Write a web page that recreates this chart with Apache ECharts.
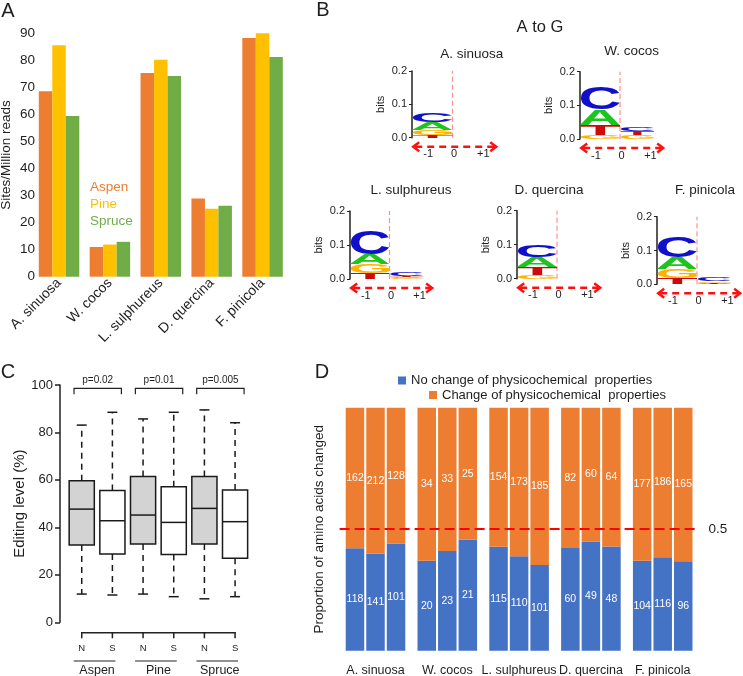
<!DOCTYPE html>
<html><head><meta charset="utf-8">
<script src="https://cdn.jsdelivr.net/npm/echarts@6/dist/echarts.min.js"></script>
<style>html,body{margin:0;padding:0;background:#fff}#c{width:743px;height:676px}</style>
</head><body><div id="c"></div>
<script>
// ---------- Panel A data ----------
const speciesA = ['A. sinuosa', 'W. cocos', 'L. sulphureus', 'D. quercina', 'F. pinicola'];
const aspenSites = [68.6, 11.0, 75.3, 28.9, 88.3];
const pineSites = [85.6, 11.9, 80.2, 25.1, 90.4];
const spruceSites = [59.4, 12.9, 74.2, 26.2, 81.2];

// ---------- Panel B data (bits) ----------
const logoTitles = ['A. sinuosa', 'W. cocos', 'L. sulphureus', 'D. quercina', 'F. pinicola'];
const logoPosLabels = ['-1', '0', '+1'];
const bitsA_m1 = [0.024, 0.047, 0.030, 0.031, 0.036];
const bitsC_m1 = [0.026, 0.064, 0.069, 0.034, 0.062];
const bitsG_m1 = [0.015, 0.012, 0.028, 0.010, 0.026];
const bitsT_m1 = [0.008, 0.031, 0.017, 0.023, 0.020];
const bitsA_p1 = [0, 0, 0.003, 0, 0.003];
const bitsC_p1 = [0, 0.012, 0.011, 0, 0.010];
const bitsG_p1 = [0, 0.011, 0.002, 0, 0.005];
const bitsT_p1 = [0, 0.0115, 0.004, 0, 0.002];

// ---------- Panel C data ----------
const boxCats = ['N', 'S', 'N', 'S', 'N', 'S'];
const boxGroups = ['Aspen', 'Pine', 'Spruce'];
const pLabels = ['p=0.02', 'p=0.01', 'p=0.005'];
const boxMin = [11.9, 11.5, 11.9, 10.8, 9.9, 10.8];
const boxQ1 = [32.6, 28.8, 33.0, 28.6, 33.0, 27.0];
const boxMed = [47.7, 42.8, 45.2, 42.1, 48.0, 42.4];
const boxQ3 = [59.7, 55.5, 61.4, 57.1, 61.4, 55.8];
const boxMax = [83.1, 88.5, 85.7, 88.5, 89.5, 84.1];

// ---------- Panel D data ----------
const speciesD = ['A. sinuosa', 'W. cocos', 'L. sulphureus', 'D. quercina', 'F. pinicola'];
const noChange1 = [118, 20, 115, 60, 104];
const change1 = [162, 34, 154, 82, 177];
const noChange2 = [141, 23, 110, 49, 116];
const change2 = [212, 33, 173, 60, 186];
const noChange3 = [101, 21, 101, 48, 96];
const change3 = [128, 25, 185, 64, 165];
const NAME_NO = 'No change of physicochemical  properties';
const NAME_CH = 'Change of physicochemical  properties';

// ---------- helpers ----------
const FONT = '"Liberation Sans", Arial, Helvetica, sans-serif';
const TXT = '#1e1e1e';
const letters = ['A', 'C', 'G', 'T'];
const letterColors = { A: '#1DC41D', C: '#1010CC', G: '#FFB300', T: '#CC0A0A' };
const LOGO_FONT = 'bold 40px "Liberation Sans"';
const mctx = document.createElement('canvas').getContext('2d');
mctx.font = LOGO_FONT; mctx.textAlign = 'center'; mctx.textBaseline = 'middle';
const metrics = {};
letters.forEach(l => {
  const m = mctx.measureText(l);
  metrics[l] = { L: m.actualBoundingBoxLeft, R: m.actualBoundingBoxRight, A: m.actualBoundingBoxAscent, D: m.actualBoundingBoxDescent };
});
const m1 = { A: bitsA_m1, C: bitsC_m1, G: bitsG_m1, T: bitsT_m1 };
const p1 = { A: bitsA_p1, C: bitsC_p1, G: bitsG_p1, T: bitsT_p1 };
function logoData(s) {
  const rows = [];
  [[m1, -1, 0], [p1, 0, 0.85]].forEach(([src, x0, x1]) => {
    const items = letters.map(l => ({ l, h: src[l][s] })).filter(d => d.h > 0).sort((a, b) => a.h - b.h);
    let base = 0;
    items.forEach(d => { rows.push([x0, x1, base, base + d.h, letters.indexOf(d.l)]); base += d.h; });
  });
  return rows;
}
function renderLetter(params, api) {
  const x0 = api.value(0), x1 = api.value(1), b = api.value(2), t = api.value(3), li = api.value(4);
  const q0 = api.coord([x0, b]), q1 = api.coord([x1, t]);
  const w = q1[0] - q0[0], h = q0[1] - q1[1];
  if (h < 0.4) return null;
  const L = letters[li], m = metrics[L];
  const sx = w / (m.L + m.R), sy = h / (m.A + m.D);
  return {
    type: 'text', x: q0[0] + m.L * sx, y: q1[1] + m.A * sy, scaleX: sx, scaleY: sy, silent: true,
    style: { text: L, font: LOGO_FONT, fill: letterColors[L], textAlign: 'center', textVerticalAlign: 'middle' }
  };
}
const logoLabelX = [-0.6, 0.04, 0.76];
function renderDecor(params, api) {
  const z0 = api.coord([0, 0]), z2 = api.coord([0, 0.2]);
  const y = z0[1] + 9;
  const xl = api.coord([-0.97, 0])[0], xr = api.coord([1.08, 0])[0];
  const red = { stroke: '#FF1010', lineWidth: 2.5, fill: null };
  const ch = [
    { type: 'line', shape: { x1: z0[0], y1: z0[1], x2: z2[0], y2: z2[1] }, style: { stroke: '#FF9090', lineWidth: 1.2, lineDash: [5, 3] } },
    { type: 'line', shape: { x1: xl + 2, y1: y, x2: xr - 2, y2: y }, style: Object.assign({ lineDash: [7, 5] }, red) },
    { type: 'polyline', shape: { points: [[xl + 6, y - 4.5], [xl, y], [xl + 6, y + 4.5]] }, style: red },
    { type: 'polyline', shape: { points: [[xr - 6, y - 4.5], [xr, y], [xr - 6, y + 4.5]] }, style: red }
  ];
  logoPosLabels.forEach((lab, j) => {
    ch.push({ type: 'text', x: api.coord([logoLabelX[j], 0])[0], y: y + 7.5,
      style: { text: lab, fill: TXT, font: '11px ' + FONT, textAlign: 'center', textVerticalAlign: 'middle' } });
  });
  return { type: 'group', children: ch };
}

function renderBox(params, api) {
  const i = api.value(0);
  const pMin = api.coord([i, api.value(1)]), pQ1 = api.coord([i, api.value(2)]),
        pMed = api.coord([i, api.value(3)]), pQ3 = api.coord([i, api.value(4)]), pMax = api.coord([i, api.value(5)]);
  const cx = pMin[0];
  const half = api.size([1, 0])[0] * 0.41;
  const cap = 5;
  const ls = { stroke: '#1a1a1a', lineWidth: 1.5 };
  const dash = { stroke: '#1a1a1a', lineWidth: 1.5, lineDash: [6, 5] };
  return { type: 'group', children: [
    { type: 'line', shape: { x1: cx, y1: pQ3[1], x2: cx, y2: pMax[1] }, style: dash },
    { type: 'line', shape: { x1: cx, y1: pQ1[1], x2: cx, y2: pMin[1] }, style: dash },
    { type: 'line', shape: { x1: cx - cap, y1: pMax[1], x2: cx + cap, y2: pMax[1] }, style: ls },
    { type: 'line', shape: { x1: cx - cap, y1: pMin[1], x2: cx + cap, y2: pMin[1] }, style: ls },
    { type: 'rect', shape: { x: cx - half, y: pQ3[1], width: 2 * half, height: pQ1[1] - pQ3[1] },
      style: { fill: i % 2 === 0 ? '#D3D3D3' : '#FFFFFF', stroke: '#1a1a1a', lineWidth: 1.5 } },
    { type: 'line', shape: { x1: cx - half, y1: pMed[1], x2: cx + half, y2: pMed[1] }, style: ls }
  ] };
}
function renderBracket(params, api) {
  const k = params.dataIndex;
  const pN = api.coord([api.value(0), 100]), pS = api.coord([api.value(1), 100]);
  const y = pN[1] + 3.3, x1 = pN[0] - 7.7, x2 = pS[0] + 9;
  return { type: 'group', children: [
    { type: 'polyline', shape: { points: [[x1, y + 6], [x1, y], [x2, y], [x2, y + 6]] }, style: { stroke: '#222', lineWidth: 1.2, fill: null } },
    { type: 'text', x: (x1 + x2) / 2, y: pN[1] - 5, style: { text: pLabels[k], fill: TXT, font: '10px ' + FONT, textAlign: 'center', textVerticalAlign: 'middle' } }
  ] };
}
function renderBottom(params, api) {
  const i = api.value(0);
  const p = api.coord([i, 0]);
  const x = p[0], base = p[1];
  const band = api.size([1, 0])[0];
  const st = { stroke: '#222', lineWidth: 1.5 };
  const ch = [
    { type: 'line', shape: { x1: x, y1: base + 10.4, x2: x, y2: base + 16 }, style: st },
    { type: 'text', x: x, y: base + 26, style: { text: boxCats[i], fill: TXT, font: '9.5px ' + FONT, textAlign: 'center', textVerticalAlign: 'middle' } }
  ];
  if (i < boxCats.length - 1) ch.push({ type: 'line', shape: { x1: x - 0.75, y1: base + 10.4, x2: x + band + 0.75, y2: base + 10.4 }, style: st });
  if (i % 2 === 0) {
    ch.push({ type: 'line', shape: { x1: x - 8, y1: base + 38.7, x2: x + band + 3, y2: base + 38.7 }, style: { stroke: '#222', lineWidth: 1.2 } });
    ch.push({ type: 'text', x: x + band / 2, y: base + 48.5, style: { text: boxGroups[i / 2], fill: TXT, font: '12.5px ' + FONT, textAlign: 'center', textVerticalAlign: 'middle' } });
  }
  return { type: 'group', children: ch };
}

// ---------- layout ----------
const logoGrids = [
  { left: 412, top: 71, width: 81, height: 66.7 },
  { left: 580, top: 71.7, width: 80, height: 67.3 },
  { left: 350, top: 211, width: 79, height: 68 },
  { left: 517, top: 210.7, width: 80, height: 68 },
  { left: 657, top: 216.7, width: 80, height: 67.6 }
];
const logoTitlePos = [[471.7, 54], [631.7, 51.7], [411, 190.7], [549, 190.7], [705, 190.7]];
const gridBase = { containLabel: false, outerBoundsMode: 'none' };
const grids = [Object.assign({ left: 33.6, top: 33.3, width: 254.4, height: 243.4 }, gridBase)]
  .concat(logoGrids.map(g => Object.assign({}, g, gridBase)))
  .concat([Object.assign({ left: 66.4, top: 385, width: 184, height: 237.3 }, gridBase),
           Object.assign({ left: 339.6, top: 407.7, width: 359, height: 243 }, gridBase)]);

const xAxes = [{ gridIndex: 0, type: 'category', data: speciesA, axisLine: { show: false }, axisTick: { show: false },
  axisLabel: { rotate: 45, fontSize: 14, color: TXT, margin: 4, fontFamily: FONT, interval: 0 } }];
const yAxes = [{ gridIndex: 0, type: 'value', min: 0, max: 90, interval: 10, axisLine: { show: false }, axisTick: { show: false },
  splitLine: { show: false }, axisLabel: { fontSize: 13.5, color: TXT, margin: -1.5, fontFamily: FONT },
  name: 'Sites/Million reads', nameLocation: 'middle', nameGap: 20, nameTextStyle: { fontSize: 13.5, color: TXT, fontFamily: FONT } }];
logoGrids.forEach((g, k) => {
  xAxes.push({ gridIndex: k + 1, type: 'value', min: -1, max: 1, show: false, axisLine: { onZero: false } });
  yAxes.push({ gridIndex: k + 1, type: 'value', min: 0, max: 0.2, interval: 0.1, position: 'left',
    axisLine: { show: true, onZero: false, lineStyle: { color: '#222', width: 1.5 } }, axisTick: { show: true, length: 3, lineStyle: { color: '#222' } },
    splitLine: { show: false }, axisLabel: { formatter: v => v.toFixed(1), fontSize: 11, color: TXT, margin: 5, fontFamily: FONT },
    name: 'bits', nameLocation: 'middle', nameGap: 26, nameTextStyle: { fontSize: 11, color: TXT, fontFamily: FONT } });
});
xAxes.push({ gridIndex: 6, type: 'category', data: boxCats, show: false });
yAxes.push({ gridIndex: 6, type: 'value', min: 0, max: 100, interval: 20, offset: 6.4,
  axisLine: { show: true, lineStyle: { color: '#222', width: 1.5 } }, axisTick: { show: true, length: 5, lineStyle: { color: '#222', width: 1.5 } },
  splitLine: { show: false }, axisLabel: { fontSize: 13, color: TXT, margin: 7, fontFamily: FONT },
  name: 'Editing level (%)', nameLocation: 'middle', nameGap: 31, nameTextStyle: { fontSize: 15, color: TXT, fontFamily: FONT } });
xAxes.push({ gridIndex: 7, type: 'category', data: speciesD, axisLine: { show: false }, axisTick: { show: false },
  axisLabel: { fontSize: 12.5, color: TXT, margin: 13, fontFamily: FONT, interval: 0 } });
yAxes.push({ gridIndex: 7, type: 'value', min: 0, max: 1, axisLine: { show: false }, axisTick: { show: false },
  axisLabel: { show: false }, splitLine: { show: false },
  name: 'Proportion of amino acids changed', nameLocation: 'middle', nameGap: 13, nameTextStyle: { fontSize: 13.5, color: TXT, fontFamily: FONT } });

const series = [];
[['Aspen', aspenSites, '#ED7D31'], ['Pine', pineSites, '#FFC000'], ['Spruce', spruceSites, '#70AD47']].forEach(([n, d, c]) => {
  series.push({ type: 'bar', name: n, xAxisIndex: 0, yAxisIndex: 0, data: d, barWidth: 13.5, barGap: '0%', itemStyle: { color: c }, silent: true });
});
logoGrids.forEach((g, k) => {
  series.push({ type: 'custom', xAxisIndex: k + 1, yAxisIndex: k + 1, data: [[0]], renderItem: renderDecor, silent: true, clip: false });
  series.push({ type: 'custom', xAxisIndex: k + 1, yAxisIndex: k + 1, data: logoData(k), renderItem: renderLetter, silent: true, clip: false });
});
series.push({ type: 'custom', xAxisIndex: 6, yAxisIndex: 6, renderItem: renderBox, clip: false, silent: true,
  encode: { x: 0, y: [1, 2, 3, 4, 5] },
  data: boxCats.map((c, i) => [i, boxMin[i], boxQ1[i], boxMed[i], boxQ3[i], boxMax[i]]) });
series.push({ type: 'custom', xAxisIndex: 6, yAxisIndex: 6, renderItem: renderBracket, clip: false, silent: true,
  encode: { x: [0, 1] }, data: boxGroups.map((g, k) => [2 * k, 2 * k + 1]) });
series.push({ type: 'custom', xAxisIndex: 6, yAxisIndex: 6, renderItem: renderBottom, clip: false, silent: true,
  encode: { x: 0 }, data: boxCats.map((c, i) => [i]) });
const pairs = [[noChange1, change1], [noChange2, change2], [noChange3, change3]];
pairs.forEach(([nc, chg], k) => {
  const prop = nc.map((v, i) => v / (v + chg[i]));
  const lab = arr => ({ show: true, position: 'inside', color: '#fff', fontSize: 10.5, fontFamily: FONT, formatter: p => String(arr[p.dataIndex]) });
  series.push({ type: 'bar', name: NAME_NO, stack: 's' + k, xAxisIndex: 7, yAxisIndex: 7, data: prop, barWidth: 18.5, barGap: '11%',
    itemStyle: { color: '#4472C4' }, label: lab(nc), silent: true });
  const s2 = { type: 'bar', name: NAME_CH, stack: 's' + k, xAxisIndex: 7, yAxisIndex: 7, data: prop.map(v => 1 - v), barWidth: 18.5, barGap: '11%',
    itemStyle: { color: '#ED7D31' }, label: lab(chg), silent: true };
  if (k === 2) {
    s2.markLine = { silent: true, symbol: ['none', 'none'], data: [{ yAxis: 0.5 }],
      lineStyle: { color: '#FF0000', type: [10, 5], width: 2 },
      label: { show: true, position: 'end', formatter: '0.5', color: TXT, fontSize: 13.5, fontFamily: FONT, distance: 10 } };
  }
  series.push(s2);
});

const gtext = (text, x, y, size) => ({ type: 'text', x, y, silent: true,
  style: { text, fill: TXT, font: size + 'px ' + FONT, textAlign: 'center', textVerticalAlign: 'middle' } });
const graphics = [gtext('A', 8, 11, 20), gtext('B', 323, 10, 20), gtext('C', 8, 372, 20), gtext('D', 322, 372, 20),
  gtext('A to G', 540, 27, 16.5)];
logoTitles.forEach((t, k) => graphics.push(gtext(t, logoTitlePos[k][0], logoTitlePos[k][1], 13.5)));

const option = {
  backgroundColor: '#fff',
  animation: false,
  textStyle: { fontFamily: FONT },
  grid: grids,
  xAxis: xAxes,
  yAxis: yAxes,
  legend: [
    { data: [{ name: 'Aspen', textStyle: { color: '#ED7D31' } }, { name: 'Pine', textStyle: { color: '#FFC000' } }, { name: 'Spruce', textStyle: { color: '#70AD47' } }],
      orient: 'vertical', left: 85, top: 180, icon: 'none', itemWidth: 0, itemHeight: 12, itemGap: 3, padding: 0,
      textStyle: { fontSize: 13.5, fontFamily: FONT }, selectedMode: false },
    { data: [NAME_NO], left: 398, top: 374, icon: 'rect', itemWidth: 8, itemHeight: 8, padding: 0,
      textStyle: { fontSize: 13, color: TXT, fontFamily: FONT }, selectedMode: false },
    { data: [NAME_CH], left: 429, top: 388.5, icon: 'rect', itemWidth: 8, itemHeight: 8, padding: 0,
      textStyle: { fontSize: 13, color: TXT, fontFamily: FONT }, selectedMode: false }
  ],
  graphic: { elements: graphics },
  series
};
const chart = echarts.init(document.getElementById('c'), null, { renderer: 'canvas', width: 743, height: 676 });
chart.setOption(option);
</script>
</body></html>
